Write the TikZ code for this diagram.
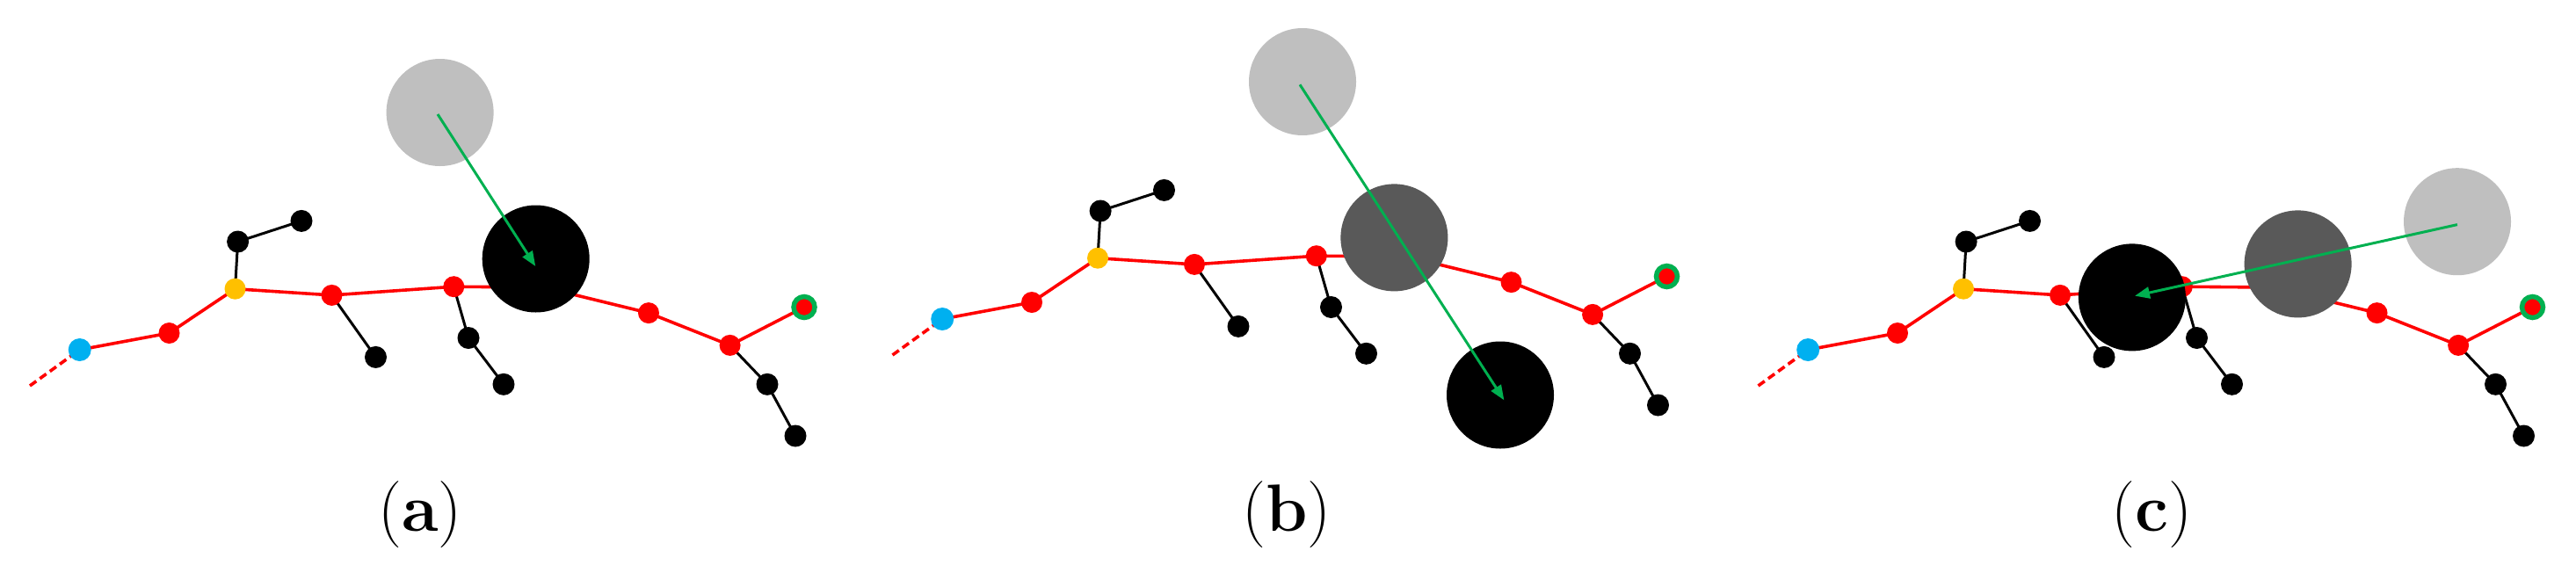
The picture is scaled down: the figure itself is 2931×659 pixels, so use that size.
\documentclass[tikz,border=0pt]{standalone}
\usetikzlibrary{arrows.meta}
\definecolor{cblue}{HTML}{00B0F0}
\definecolor{corange}{HTML}{FFC000}
\definecolor{cgreen}{HTML}{00B050}
\definecolor{clight}{HTML}{BFBFBF}
\definecolor{cdark}{HTML}{595959}
\tikzset{
  bond/.style={red, line width=3.6pt},
  sbond/.style={black, line width=3pt},
  dbond/.style={red, line width=3.6pt, dash pattern=on 9pt off 5pt},
  atom/.style={circle, inner sep=0pt, minimum size=24pt, fill=red},
  blueatom/.style={atom, fill=cblue, minimum size=26pt},
  orangeatom/.style={atom, fill=corange},
  blackatom/.style={atom, fill=black, minimum size=25pt},
  endatom/.style={atom, draw=cgreen, line width=5.5pt},
  bigball/.style={circle, inner sep=0pt, minimum size=122pt},
  move/.style={cgreen, line width=3pt, -{Triangle[length=17pt,width=13pt]}},
  plabel/.style={anchor=base, inner sep=0pt, font=\fontsize{76}{90}\selectfont}
}
\newcommand\drawbonds{%
  \draw[dbond] (D) -- (B);
  \draw[bond] (B) -- (R1) -- (O) -- (R2) -- (R3) -- (H) -- (R4) -- (R5) -- (G);
  \draw[sbond] (O) -- (K1) -- (K2);
  \draw[sbond] (R2) -- (K3);
  \draw[sbond] (R3) -- (K4) -- (K5);
  \draw[sbond] (R5) -- (K6) -- (K7);
}
\newcommand\molecule{%
  \coordinate (D) at (34,439);
  \coordinate (H) at (619,327);
  \coordinate (B) at (90.7,398);
  \coordinate (R1) at (192.5,379);
  \coordinate (O) at (267.5,328.7);
  \coordinate (K1) at (270.6,275);
  \coordinate (K2) at (343,251.4);
  \coordinate (R2) at (377.5,335.9);
  \coordinate (K3) at (427.5,406.4);
  \coordinate (R3) at (516.3,326.2);
  \coordinate (K4) at (533,384.5);
  \coordinate (K5) at (573,437.3);
  \coordinate (R4) at (738,356.1);
  \coordinate (R5) at (830.6,392.9);
  \coordinate (G) at (915,349.5);
  \coordinate (K6) at (873,437.3);
  \coordinate (K7) at (905,496);
  \drawbonds
  \node[blueatom] (nB) at (B) {};
  \node[atom] (nR1) at (R1) {};
  \node[orangeatom] (nO) at (O) {};
  \node[blackatom] (nK1) at (K1) {};
  \node[blackatom] (nK2) at (K2) {};
  \node[atom] (nR2) at (R2) {};
  \node[blackatom] (nK3) at (K3) {};
  \node[atom] (nR3) at (R3) {};
  \node[blackatom] (nK4) at (K4) {};
  \node[blackatom] (nK5) at (K5) {};
  \node[atom] (nR4) at (R4) {};
  \node[atom] (nR5) at (R5) {};
  \node[endatom] (nG) at (G) {};
  \node[blackatom] (nK6) at (K6) {};
  \node[blackatom] (nK7) at (K7) {};
}
\begin{document}
\begin{tikzpicture}[x=1pt, y=-1pt]
  \useasboundingbox (0,0) rectangle (2931,659);
  % panel (a)
  \begin{scope}[name prefix=a-]
    \molecule
  \end{scope}
  \node[bigball, fill=clight] (a-old) at (500.6,128) {};
  \node[bigball, fill=black] (a-new) at (609.7,294.5) {};
  \coordinate (a-s) at (498,130);
  \coordinate (a-e) at (609.3,303);
  \draw[move] (a-s) -- (a-e);
  \node[plabel] (la) at (478,604) {(\textbf{a})};
  % panel (b)
  \begin{scope}[shift={(981.5,-35)}, name prefix=b-]
    \molecule
  \end{scope}
  \node[bigball, fill=clight] (b-old) at (1482,93) {};
  \node[bigball, fill=cdark] (b-mid) at (1586.4,270.4) {};
  \node[bigball, fill=black] (b-new) at (1707,449.5) {};
  \coordinate (b-s) at (1479,96.3);
  \coordinate (b-e) at (1711.4,455.4);
  \draw[move] (b-s) -- (b-e);
  \node[plabel] (lb) at (1464,604) {(\textbf{b})};
  % panel (c)
  \begin{scope}[shift={(1966.5,0)}, name prefix=c-]
    \molecule
  \end{scope}
  \node[bigball, fill=clight] (c-old) at (2796,252.2) {};
  \node[bigball, fill=cdark] (c-mid) at (2614.6,300.4) {};
  \node[bigball, fill=black] (c-new) at (2425.9,338.4) {};
  \coordinate (c-s) at (2795.9,255.6);
  \coordinate (c-e) at (2429,336.7);
  \draw[move] (c-s) -- (c-e);
  \node[plabel] (lc) at (2448,604) {(\textbf{c})};
\end{tikzpicture}
\end{document}
